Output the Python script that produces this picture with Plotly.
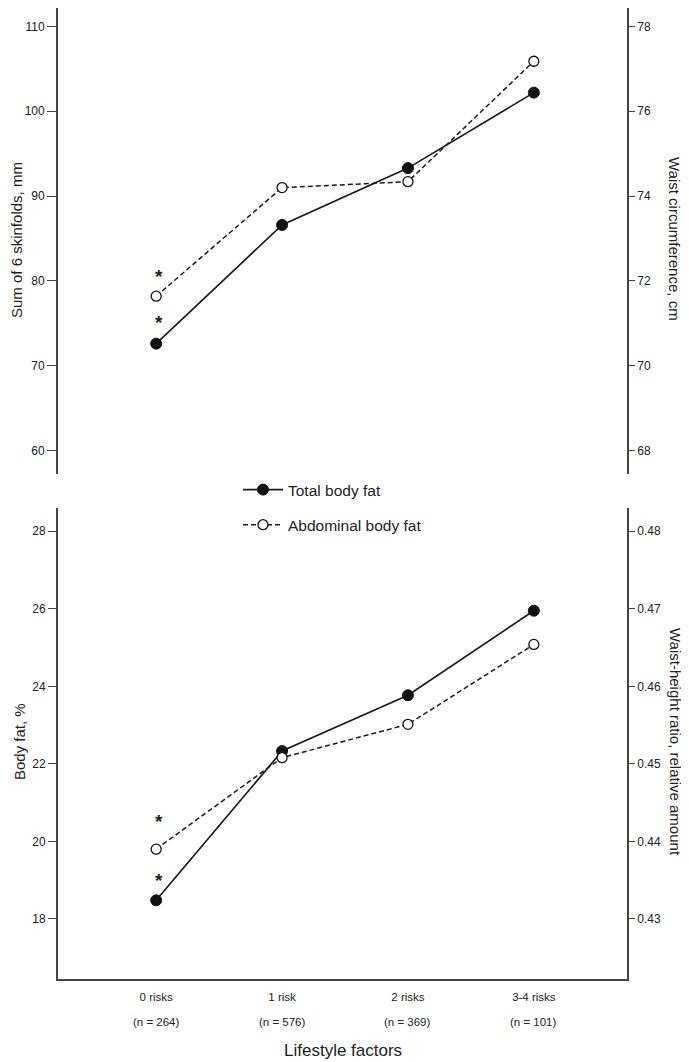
import plotly.graph_objects as go

categories = ["0 risks", "1 risk", "2 risks", "3-4 risks"]
n_counts = [264, 576, 369, 101]

# Top panel
skinfolds_mm = [72.6, 86.6, 93.3, 102.2]          # Total body fat (left axis)
waist_cm = [71.64, 74.20, 74.34, 77.18]            # Abdominal body fat (right axis)

# Bottom panel
body_fat_pct = [18.48, 22.33, 23.77, 25.95]        # Total body fat (left axis)
waist_height = [0.4390, 0.4508, 0.4551, 0.4654]    # Abdominal body fat (right axis)

left_top_ticks = [60, 70, 80, 90, 100, 110]
right_top_ticks = [68, 70, 72, 74, 76, 78]
left_bot_ticks = [18, 20, 22, 24, 26, 28]
right_bot_ticks = [0.43, 0.44, 0.45, 0.46, 0.47, 0.48]

FONT = "Liberation Sans, Arial, sans-serif"
INK = "#222222"
AX = "#444444"

# the page body adds an 8px offset; size the figure so it fits the window
OFF = 8
W, H = 689 - OFF, 1062 - OFF
ML = 58 - OFF
MR = W - (627 - OFF)
MT = 0
MB = H - (979 - OFF)
PH = H - MT - MB
PW = W - ML - MR

def py(p):  # page y -> paper y
    return (979 - p) / PH

def px(p):  # page x -> paper x
    return (p - 58) / PW

top_dom = [py(474), 1.0]
bot_dom = [0.0, py(508)]

fig = go.Figure()

solid = dict(color="#1a1a1a", width=1.7)
dashed = dict(color="#1a1a1a", width=1.5, dash="5px,3px")
mk_filled = dict(symbol="circle", size=11, color="#111111", line=dict(color="#111111", width=1))
mk_open = dict(symbol="circle", size=10, color="white", line=dict(color="#111111", width=1.3))

fig.add_trace(go.Scatter(x=categories, y=skinfolds_mm, xaxis="x2", yaxis="y2",
                         mode="lines+markers", line=solid, marker=mk_filled,
                         name="Total body fat", legendgroup="a", showlegend=True))
fig.add_trace(go.Scatter(x=categories, y=waist_cm, xaxis="x2", yaxis="y4",
                         mode="lines+markers", line=dashed, marker=mk_open,
                         name="Abdominal body fat", legendgroup="b", showlegend=True))
fig.add_trace(go.Scatter(x=categories, y=body_fat_pct, xaxis="x", yaxis="y",
                         mode="lines+markers", line=solid, marker=mk_filled,
                         name="Total body fat", legendgroup="a", showlegend=False))
fig.add_trace(go.Scatter(x=categories, y=waist_height, xaxis="x", yaxis="y3",
                         mode="lines+markers", line=dashed, marker=mk_open,
                         name="Abdominal body fat", legendgroup="b", showlegend=False))

xr = [-0.78, 3.74]
tickfont = dict(family=FONT, size=12, color=INK)

def yax(**kw):
    base = dict(showgrid=False, zeroline=False, showline=True, linecolor=AX, linewidth=1.8,
                ticks="outside", ticklen=8, tickwidth=1.3, tickcolor=AX, tickfont=tickfont,
                automargin=False)
    base.update(kw)
    return base

top_rng = [57.23, 112.18]
bot_rng = [16.45, 28.6]

fig.update_layout(
    width=W, height=H,
    margin=dict(l=ML, r=MR, t=MT, b=MB, autoexpand=False),
    paper_bgcolor="white", plot_bgcolor="white",
    font=dict(family=FONT, color=INK),
    xaxis=dict(domain=[0, 1], anchor="y", type="category", range=xr, automargin=False,
               showgrid=False, zeroline=False, showline=True, linecolor=AX, linewidth=1.8,
               ticks="", tickfont=dict(family=FONT, size=11.5, color=INK), ticklabelstandoff=6),
    xaxis2=dict(domain=[0, 1], anchor="y2", type="category", range=xr, automargin=False,
                showgrid=False, zeroline=False, showline=False, showticklabels=False, ticks=""),
    yaxis=yax(domain=bot_dom, anchor="x", range=bot_rng, tickvals=left_bot_ticks, ticklen=8),
    yaxis2=yax(domain=top_dom, anchor="x2", range=top_rng, tickvals=left_top_ticks, ticklen=9),
    yaxis3=yax(overlaying="y", side="right", anchor="x",
               range=[0.43 + (bot_rng[0] - 18) * 0.005, 0.43 + (bot_rng[1] - 18) * 0.005],
               tickvals=right_bot_ticks, tickformat=".2f", ticklen=6),
    yaxis4=yax(overlaying="y2", side="right", anchor="x2",
               range=[68 + (top_rng[0] - 60) * 0.2, 68 + (top_rng[1] - 60) * 0.2],
               tickvals=right_top_ticks, ticklen=6),
    legend=dict(x=px(238), y=py(473), xanchor="left", yanchor="top",
                font=dict(family=FONT, size=15.5, color=INK), bgcolor="rgba(0,0,0,0)",
                traceorder="grouped", tracegroupgap=12, itemwidth=40),
    showlegend=True,
)

ann = []
title_font = dict(size=15, family=FONT, color=INK)
# axis titles
ann.append(dict(text="Sum of 6 skinfolds, mm", xref="paper", yref="paper",
                x=px(17), y=py(240), xanchor="center", yanchor="middle",
                textangle=-90, showarrow=False, font=title_font))
ann.append(dict(text="Body fat, %", xref="paper", yref="paper",
                x=px(19), y=py(742), xanchor="center", yanchor="middle",
                textangle=-90, showarrow=False, font=title_font))
ann.append(dict(text="Waist circumference, cm", xref="paper", yref="paper",
                x=px(674), y=py(239), xanchor="center", yanchor="middle",
                textangle=90, showarrow=False, font=title_font))
ann.append(dict(text="Waist-height ratio, relative amount", xref="paper", yref="paper",
                x=px(676), y=py(742), xanchor="center", yanchor="middle",
                textangle=90, showarrow=False, font=title_font))
ann.append(dict(text="Lifestyle factors", xref="paper", yref="paper", x=0.5, y=0,
                yshift=-71, yanchor="middle", showarrow=False,
                font=dict(size=17, family=FONT, color=INK)))
for c, n in zip(categories, n_counts):
    ann.append(dict(text=f"(n = {n})", xref="x", yref="paper", x=c, y=0, yshift=-43,
                    yanchor="middle", showarrow=False,
                    font=dict(size=11.5, family=FONT, color=INK)))
# significance stars at the first category
star_font = dict(size=19, family=FONT, color=INK)
ann.append(dict(text="<b>*</b>", xref="x2", yref="y4", x=categories[0], y=waist_cm[0], yshift=20,
                xshift=3, showarrow=False, font=star_font))
ann.append(dict(text="<b>*</b>", xref="x2", yref="y2", x=categories[0], y=skinfolds_mm[0], yshift=21,
                xshift=3, showarrow=False, font=star_font))
ann.append(dict(text="<b>*</b>", xref="x", yref="y3", x=categories[0], y=waist_height[0], yshift=28,
                xshift=3, showarrow=False, font=star_font))
ann.append(dict(text="<b>*</b>", xref="x", yref="y", x=categories[0], y=body_fat_pct[0], yshift=20,
                xshift=3, showarrow=False, font=star_font))
fig.update_layout(annotations=ann)

fig.write_html("out.html")
